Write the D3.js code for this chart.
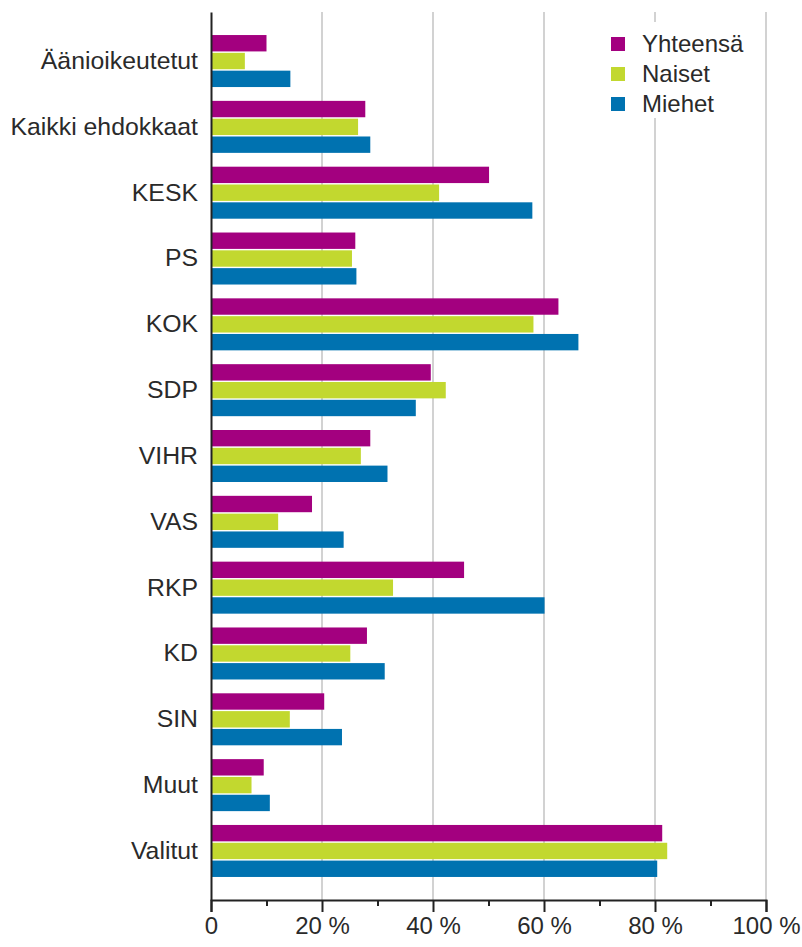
<!DOCTYPE html>
<html>
<head>
<meta charset="utf-8">
<script src="https://cdn.jsdelivr.net/npm/d3@7"></script>
<style>
  body { margin: 0; background: #fff; }
  svg { display: block; font-family: "Liberation Sans", Arial, sans-serif; }
</style>
</head>
<body>
<script>
var categories = ["Äänioikeutetut", "Kaikki ehdokkaat", "KESK", "PS", "KOK", "SDP", "VIHR", "VAS", "RKP", "KD", "SIN", "Muut", "Valitut"];
var seriesNames = ["Yhteensä", "Naiset", "Miehet"];
var yhteensa = [10.0, 27.8, 50.1, 26.0, 62.6, 39.6, 28.7, 18.2, 45.6, 28.1, 20.4, 9.5, 81.3];
var naiset   = [6.1, 26.5, 41.1, 25.4, 58.1, 42.3, 27.0, 12.1, 32.8, 25.1, 14.2, 7.3, 82.2];
var miehet   = [14.3, 28.7, 57.9, 26.2, 66.2, 36.9, 31.8, 23.9, 60.1, 31.3, 23.6, 10.6, 80.4];
var majorTicks = [0, 20, 40, 60, 80, 100];
var minorTicks = [10, 30, 50, 70, 90];
var colors = ["#a3007f", "#c2d82f", "#0072b0"];

var width = 802, height = 947;
var margin = {top: 12, right: 36, bottom: 47, left: 211};
var plotW = width - margin.left - margin.right;
var plotH = height - margin.top - margin.bottom;
var textColor = "#2a2a2a";

var svg = d3.select("body").append("svg")
    .attr("width", width)
    .attr("height", height);

var g = svg.append("g")
    .attr("transform", "translate(" + margin.left + "," + margin.top + ")");

var x = d3.scaleLinear().domain([0, 100]).range([0, plotW]);

var y = d3.scaleBand()
    .domain(categories)
    .range([0, plotH])
    .paddingInner(0.21)
    .paddingOuter(0.35);

var ySub = d3.scaleBand()
    .domain(seriesNames)
    .range([0, y.bandwidth()])
    .paddingInner(0.08);

// gridlines
g.append("g")
    .selectAll("line")
    .data(majorTicks.slice(1))
    .enter().append("line")
    .attr("x1", function(d){ return x(d); })
    .attr("x2", function(d){ return x(d); })
    .attr("y1", 0)
    .attr("y2", plotH)
    .style("stroke", "#d2d2d2")
    .style("stroke-width", 2);

var rows = categories.map(function(c, i){
    return {cat: c, values: [yhteensa[i], naiset[i], miehet[i]]};
});

var groups = g.selectAll("g.cat")
    .data(rows)
    .enter().append("g")
    .attr("class", "cat")
    .attr("transform", function(d){ return "translate(0," + y(d.cat) + ")"; });

groups.selectAll("rect")
    .data(function(d){
        return d.values.map(function(v, i){ return {name: seriesNames[i], value: v, i: i}; });
    })
    .enter().append("rect")
    .attr("x", 0)
    .attr("y", function(d){ return ySub(d.name); })
    .attr("width", function(d){ return x(d.value); })
    .attr("height", ySub.bandwidth())
    .style("fill", function(d){ return colors[d.i]; });

// x axis
var xAxis = d3.axisBottom(x)
    .tickValues(majorTicks)
    .tickSize(12)
    .tickPadding(5)
    .tickFormat(function(d){ return d === 0 ? "0" : d + " %"; });

var xg = g.append("g")
    .attr("transform", "translate(0," + plotH + ")")
    .call(xAxis);
xg.select(".domain").style("stroke", "#222").style("stroke-width", 2);
xg.selectAll(".tick line").style("stroke", "#222").style("stroke-width", 2);
xg.selectAll("text")
    .style("font-size", "24px")
    .style("fill", textColor)
    .style("font-family", "'Liberation Sans', Arial, sans-serif");

var minorAxis = d3.axisBottom(x)
    .tickValues(minorTicks)
    .tickSize(6)
    .tickFormat("");
var mg = g.append("g")
    .attr("transform", "translate(0," + plotH + ")")
    .call(minorAxis);
mg.select(".domain").remove();
mg.selectAll(".tick line").style("stroke", "#222").style("stroke-width", 2);

// y axis
var yAxis = d3.axisLeft(y).tickSize(0).tickPadding(13);
var yg = g.append("g").call(yAxis);
yg.select(".domain").style("stroke", "#222").style("stroke-width", 2);
yg.selectAll("text")
    .style("font-size", "24.8px")
    .style("fill", textColor)
    .style("font-family", "'Liberation Sans', Arial, sans-serif");

// legend
var legend = svg.append("g")
    .attr("transform", "translate(600,22)");
legend.append("rect")
    .attr("width", 158)
    .attr("height", 96)
    .style("fill", "#fff");
var items = legend.selectAll("g.item")
    .data(seriesNames)
    .enter().append("g")
    .attr("class", "item")
    .attr("transform", function(d, i){ return "translate(11," + (15 + i * 30) + ")"; });
items.append("rect")
    .attr("width", 14)
    .attr("height", 14)
    .style("fill", function(d, i){ return colors[i]; });
items.append("text")
    .attr("x", 31)
    .attr("y", 7)
    .attr("dy", "0.35em")
    .style("font-size", "24px")
    .style("fill", textColor)
    .text(function(d){ return d; });
</script>
</body>
</html>
